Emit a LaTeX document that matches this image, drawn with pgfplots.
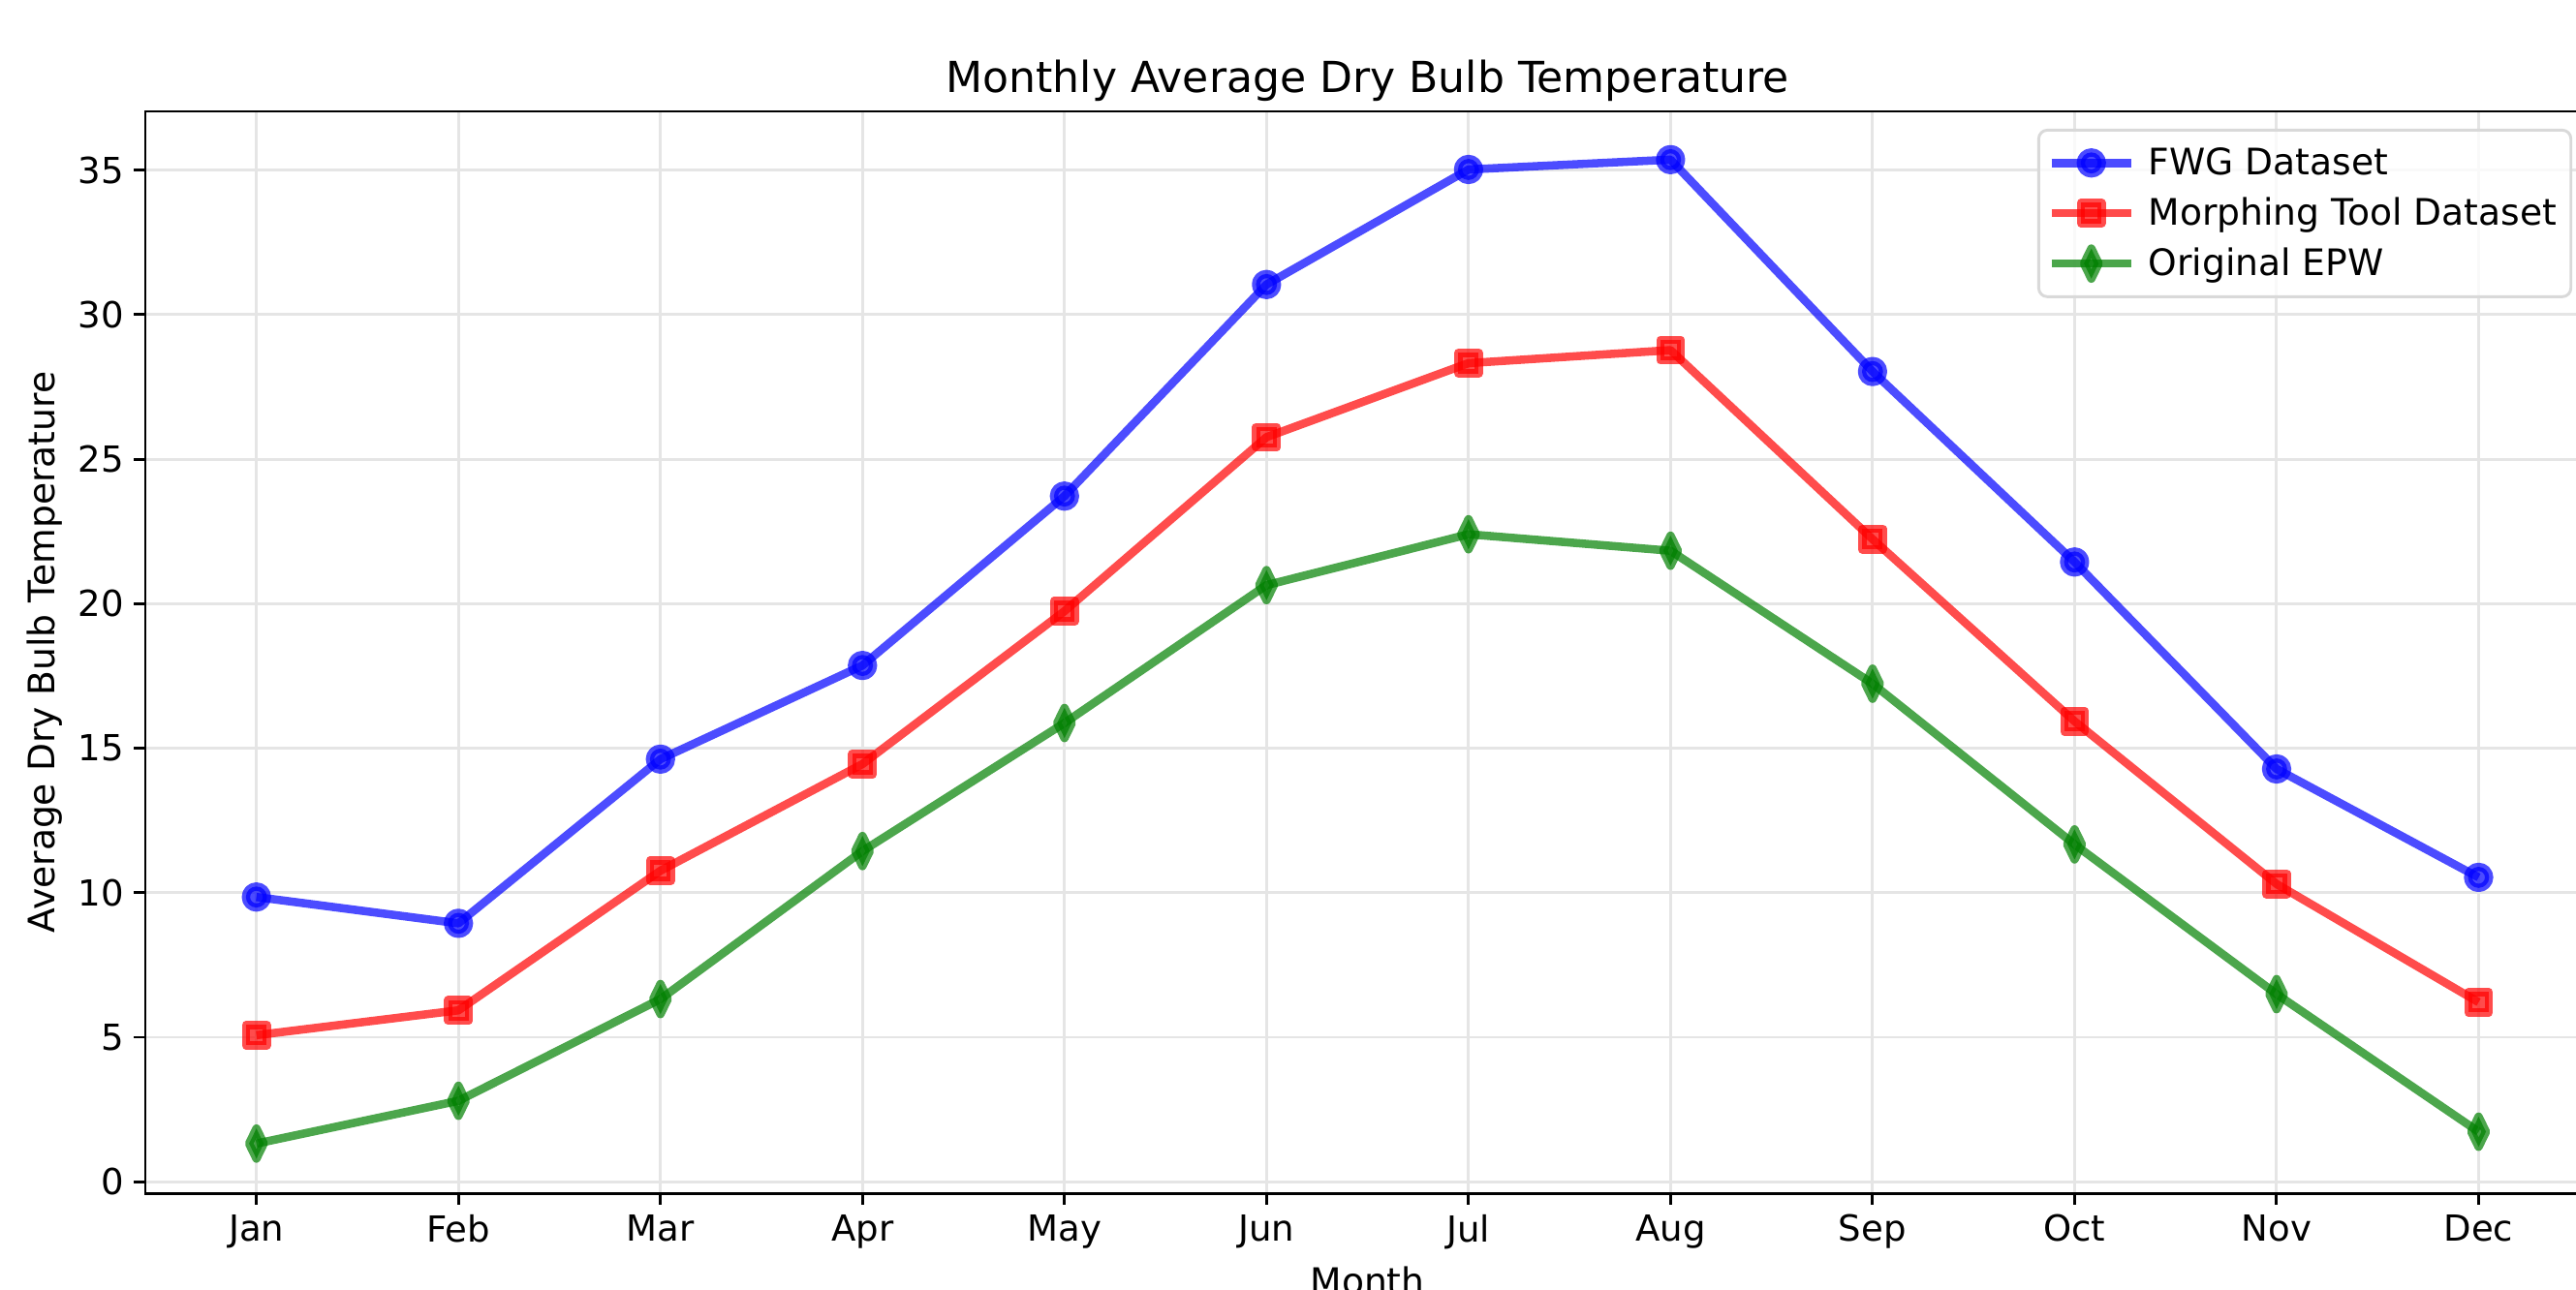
\documentclass[border=0pt]{standalone}
\usepackage{fontspec}
\setmainfont{DejaVu Sans}
\usepackage{pgfplots}
\pgfplotsset{compat=1.18}
\definecolor{mplgreen}{RGB}{0,128,0}

\begin{document}
\begin{tikzpicture}
\begin{axis}[
  name=ax,
  scale only axis,
  width=857.8pt, height=379.8pt,
  xmin=-0.55, xmax=11.55, ymin=-0.4, ymax=37.03,
  xtick={0,...,11},
  xticklabels={Jan,Feb,Mar,Apr,May,Jun,Jul,Aug,Sep,Oct,Nov,Dec},
  ytick={0,5,...,35},
  tick align=outside, xtick pos=left, ytick pos=left,
  major tick length=4pt,
  tick style={black, line width=1pt},
  axis line style={black, line width=1pt},
  grid=major,
  grid style={line width=1pt, black!10},
  font=\fontsize{12.8}{15.4}\selectfont,
  tick label style={font=\fontsize{12.6}{15.2}\selectfont},
  /pgf/number format/assume math mode=true,
  every axis title shift=0pt,
  title={Monthly Average Dry Bulb Temperature},
  title style={at={(axis description cs:0.5,1.0171)}, anchor=base, inner sep=0pt, font=\fontsize{15}{18}\selectfont},
  xlabel={Month},
  xlabel style={at={(axis description cs:0.5,-0.0671)}, anchor=north, inner sep=0pt},
  ylabel={Average Dry Bulb Temperature},
  ylabel style={at={(axis description cs:-0.04127,0.5)}, anchor=center, inner sep=0pt},
  legend style={at={(axis description cs:1,1)}, anchor=north east, xshift=-6.1pt, yshift=-6.1pt,
    draw=black!15, line width=1pt, rounded corners=3pt, fill=white, fill opacity=0.8, text opacity=1,
    font=\fontsize{12.8}{15.4}\selectfont, row sep=2.5pt, inner xsep=3pt, inner ysep=4pt},
  legend cell align=left,
  legend image code/.code={\path[draw=none,fill=none] (0pt,0pt) -- (32pt,0pt);\draw[mark repeat=2,mark phase=2,#1] plot coordinates {(0pt,0pt)(14pt,0pt)(28pt,0pt)};},
]
\addplot[blue, opacity=0.7, line width=2.9pt, line join=round, mark=*, mark size=3.7pt, mark options={solid}]
  coordinates {(0,9.85)(1,8.94)(2,14.62)(3,17.86)(4,23.72)(5,31.04)(6,35.02)(7,35.36)(8,28.03)(9,21.44)(10,14.28)(11,10.53)};
\addlegendentry{FWG Dataset}
\addplot[red, opacity=0.7, line width=2.9pt, line join=round, mark=square*, mark size=3.6pt, mark options={solid}]
  coordinates {(0,5.07)(1,5.93)(2,10.76)(3,14.45)(4,19.74)(5,25.76)(6,28.32)(7,28.77)(8,22.23)(9,15.93)(10,10.30)(11,6.21)};
\addlegendentry{Morphing Tool Dataset}
\addplot[mplgreen, opacity=0.7, line width=2.9pt, line join=round, mark=diamond*, mark size=5.3pt, mark options={solid, xscale=0.65}]
  coordinates {(0,1.32)(1,2.80)(2,6.32)(3,11.44)(4,15.87)(5,20.64)(6,22.40)(7,21.83)(8,17.23)(9,11.67)(10,6.49)(11,1.73)};
\addlegendentry{Original EPW}
\end{axis}
\pgfresetboundingbox
\path ([xshift=-51pt,yshift=-33.7pt]ax.south west) rectangle ([xshift=-4.8pt,yshift=39.1pt]ax.north east);
\end{tikzpicture}
\end{document}
